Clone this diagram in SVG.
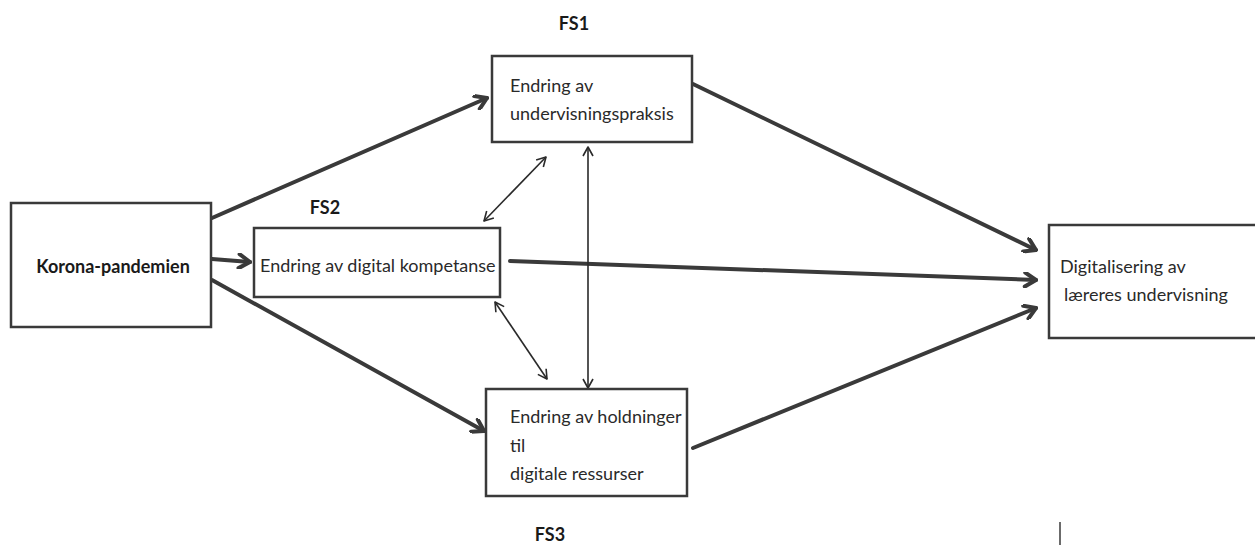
<svg xmlns="http://www.w3.org/2000/svg" width="1255" height="545" viewBox="0 0 1255 545">
  <style>
    .box { fill: #ffffff; stroke: #3a3a3a; stroke-width: 2.5; }
    .txt { font-family: Lato, "Open Sans", "Liberation Sans", sans-serif; font-size: 18px; fill: #2a2a2a; }
    .bold { font-weight: bold; fill: #1a1a1a; }
    .thick { stroke: #3a3a3a; stroke-width: 4; fill: none; stroke-linecap: round; }
    .thin { stroke: #2a2a2a; stroke-width: 1.6; fill: none; }
  </style>
  <defs>
    <marker id="headThick" viewBox="0 0 16 16" refX="14" refY="8" markerWidth="16" markerHeight="16" markerUnits="userSpaceOnUse" orient="auto-start-reverse">
      <path d="M3,1 L14,8 L3,15" fill="none" stroke="#3a3a3a" stroke-width="4" stroke-linecap="round" stroke-linejoin="round"/>
    </marker>
    <marker id="headThin" viewBox="0 0 12 12" refX="11" refY="6" markerWidth="12" markerHeight="12" markerUnits="userSpaceOnUse" orient="auto-start-reverse">
      <path d="M2,1 L11,6 L2,11" fill="none" stroke="#2a2a2a" stroke-width="1.6" stroke-linejoin="round"/>
    </marker>
  </defs>

  <rect width="1255" height="545" fill="#ffffff"/>

  <!-- connectors -->
  <g id="connectors">
    <line class="thick" x1="212" y1="218" x2="487" y2="98" marker-end="url(#headThick)"/>
    <line class="thick" x1="212" y1="259" x2="250" y2="262" marker-end="url(#headThick)"/>
    <line class="thick" x1="212" y1="280" x2="484" y2="431" marker-end="url(#headThick)"/>
    <line class="thick" x1="693" y1="84" x2="1036" y2="250" marker-end="url(#headThick)"/>
    <line class="thick" x1="510" y1="261" x2="1036" y2="280" marker-end="url(#headThick)"/>
    <line class="thick" x1="693" y1="448" x2="1036" y2="308" marker-end="url(#headThick)"/>
    <line class="thin" x1="546" y1="157" x2="484" y2="221" marker-start="url(#headThin)" marker-end="url(#headThin)"/>
    <line class="thin" x1="495" y1="302" x2="547" y2="379" marker-start="url(#headThin)" marker-end="url(#headThin)"/>
    <line class="thin" x1="588" y1="147" x2="588" y2="388" marker-start="url(#headThin)" marker-end="url(#headThin)"/>
  </g>

  <g id="korona">
    <rect class="box" x="11" y="203" width="200" height="124"/>
    <text class="txt bold" x="113" y="273" text-anchor="middle">Korona-pandemien</text>
  </g>

  <g id="fs1">
    <text class="txt bold" x="574" y="30" text-anchor="middle">FS1</text>
    <rect class="box" x="492" y="56" width="200" height="86"/>
    <text class="txt" x="510" y="92">Endring av</text>
    <text class="txt" x="510" y="120">undervisningspraksis</text>
  </g>

  <g id="fs2">
    <text class="txt bold" x="325" y="214" text-anchor="middle">FS2</text>
    <rect class="box" x="254" y="228" width="246" height="69"/>
    <text class="txt" x="260" y="272">Endring av digital kompetanse</text>
  </g>

  <g id="fs3">
    <rect class="box" x="486" y="389" width="201" height="107"/>
    <text class="txt" x="510" y="423">Endring av holdninger</text>
    <text class="txt" x="510" y="452">til</text>
    <text class="txt" x="510" y="480">digitale ressurser</text>
    <text class="txt bold" x="550" y="541" text-anchor="middle">FS3</text>
  </g>

  <g id="digitalisering">
    <rect class="box" x="1049" y="225" width="220" height="113"/>
    <text class="txt" x="1060" y="273">Digitalisering av</text>
    <text class="txt" x="1064" y="301">læreres undervisning</text>
  </g>

  <line x1="1060" y1="522" x2="1060" y2="545" stroke="#3a3a3a" stroke-width="1.5"/>
</svg>
